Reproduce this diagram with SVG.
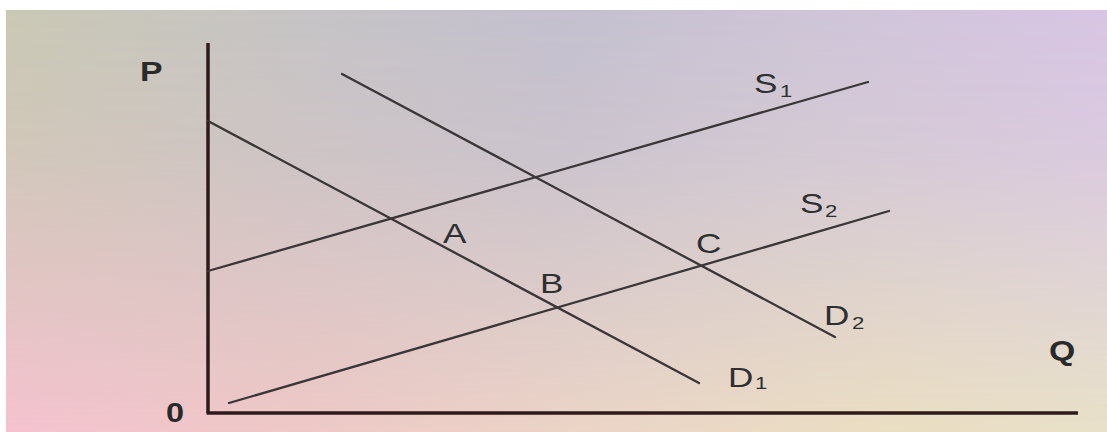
<svg xmlns="http://www.w3.org/2000/svg" width="1107" height="432" viewBox="0 0 1107 432">
<defs>
<linearGradient id="topRow" x1="0" y1="0" x2="1" y2="0">
<stop offset="0" stop-color="#c9c9b4"/>
<stop offset="0.27" stop-color="#c6c4c6"/>
<stop offset="0.5" stop-color="#c3c0cf"/>
<stop offset="0.72" stop-color="#cec5d8"/>
<stop offset="1" stop-color="#d8c5e5"/>
</linearGradient>
<linearGradient id="botRow" x1="0" y1="0" x2="1" y2="0">
<stop offset="0" stop-color="#f4c2cf"/>
<stop offset="0.27" stop-color="#eec8c6"/>
<stop offset="0.55" stop-color="#ebd5c6"/>
<stop offset="0.8" stop-color="#eadec2"/>
<stop offset="1" stop-color="#e8e0c8"/>
</linearGradient>
<linearGradient id="vfade" x1="0" y1="0" x2="0" y2="1">
<stop offset="0" stop-color="#fff" stop-opacity="0"/>
<stop offset="0.35" stop-color="#fff" stop-opacity="0.2"/>
<stop offset="1" stop-color="#fff" stop-opacity="1"/>
</linearGradient>
<mask id="m" maskUnits="userSpaceOnUse" x="0" y="0" width="1107" height="432">
<rect x="0" y="0" width="1107" height="432" fill="url(#vfade)"/>
</mask>
<style>
.ln{stroke:#3a3638;stroke-width:2.3;fill:none;stroke-linecap:round}
.ax{stroke:#2e1a1a;stroke-width:3.5;fill:none}
.lb{font-family:"Liberation Sans",Arial,sans-serif;font-size:27px;fill:#2f2f2f}
.sb{font-family:"Liberation Sans",Arial,sans-serif;font-size:17px;fill:#2f2f2f}
.bd{font-family:"Liberation Sans",Arial,sans-serif;font-size:27px;font-weight:bold;fill:#2a2a2a}
</style>
</defs>
<rect x="0" y="0" width="1107" height="432" fill="#ffffff"/>
<rect x="6" y="10" width="1101" height="422" fill="url(#topRow)"/>
<rect x="6" y="10" width="1101" height="422" fill="url(#botRow)" mask="url(#m)"/>

<g id="connectors">
<line class="ax" x1="208" y1="43" x2="208" y2="413"/>
<line class="ax" x1="206.5" y1="413" x2="1078" y2="413"/>
<line id="D1" class="ln" x1="208" y1="121" x2="699" y2="383"/>
<line id="D2" class="ln" x1="342" y1="74" x2="835" y2="337"/>
<line id="S1" class="ln" x1="208" y1="271" x2="868" y2="82"/>
<line id="S2" class="ln" x1="229" y1="403" x2="889" y2="211"/>
</g>

<g id="label-P"><text class="bd" transform="translate(140,81) scale(1.25,1)">P</text></g>
<g id="label-0"><text class="bd" transform="translate(166,422) scale(1.2,1)">0</text></g>
<g id="label-Q"><text class="bd" transform="translate(1049,360) scale(1.25,1)">Q</text></g>
<g id="label-A"><text class="lb" transform="translate(443,243) scale(1.3,1)">A</text></g>
<g id="label-B"><text class="lb" transform="translate(540,293) scale(1.3,1)">B</text></g>
<g id="label-C"><text class="lb" transform="translate(696,253) scale(1.3,1)">C</text></g>
<g id="label-S1"><text class="lb" transform="translate(754,93) scale(1.3,1)">S</text><text class="sb" transform="translate(780,97) scale(1.3,1)">1</text></g>
<g id="label-S2"><text class="lb" transform="translate(800,213) scale(1.3,1)">S</text><text class="sb" transform="translate(825,217) scale(1.3,1)">2</text></g>
<g id="label-D2"><text class="lb" transform="translate(824,325) scale(1.3,1)">D</text><text class="sb" transform="translate(852,329) scale(1.3,1)">2</text></g>
<g id="label-D1"><text class="lb" transform="translate(728,387) scale(1.3,1)">D</text><text class="sb" transform="translate(755,389) scale(1.3,1)">1</text></g>
</svg>
